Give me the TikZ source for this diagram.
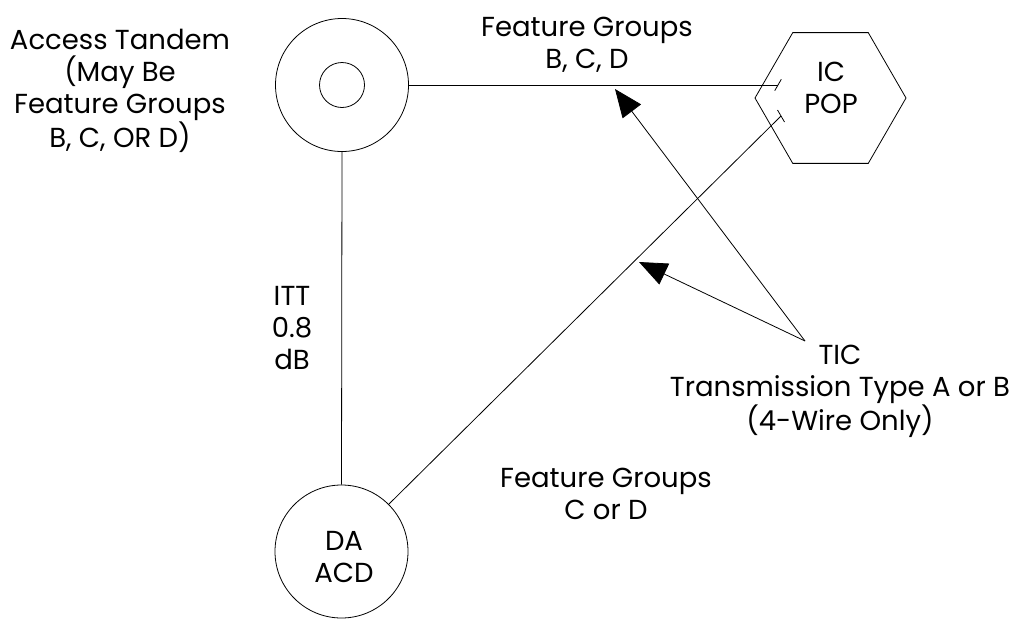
\documentclass[tikz,border=0pt]{standalone}
\usepackage{fontspec}
\setmainfont{Poppins}
\usetikzlibrary{arrows.meta,shapes.geometric,calc}
\begin{document}
\begin{tikzpicture}[x=1pt,y=-1pt,
  line width=0.8pt,
  site/.style={draw,circle,inner sep=0pt,minimum size=133pt},
  txt/.style={align=center,inner sep=0pt,font=\fontsize{27.5}{32}\selectfont},
  tickmark/.style={line width=0.8pt},
  pointer/.style={-{Triangle[length=28pt,width=23pt]},line width=0.8pt}]
\useasboundingbox (0,0) rectangle (1014,619);
% nodes
\node[site] (at) at (342,85) {};
\node[draw,circle,inner sep=0pt,minimum size=45pt] (atin) at (342,85) {};
\node[site] (da) at (341.5,551.5) {};
\node[txt] (dal) at (344,557) {DA\\ACD};
\node[draw,regular polygon,regular polygon sides=6,minimum size=151pt,inner sep=0pt] (pop) at (830.5,98) {};
\node[txt] (popl) at (831,87.5) {IC\\POP};
% labels
\node[txt] (atlab) at (120,91) {Access Tandem\\(May Be\\Feature Groups\\B, C, OR D)};
\node[txt] (fgtop) at (587,45) {Feature Groups\\B, C, D};
\node[txt] (itt) at (292,328) {ITT\\0.8\\dB};
\node[txt] (tic) at (840,391) {TIC\\Transmission Type A or B\\(4-Wire Only)};
\node[txt] (fgbot) at (606,494) {Feature Groups\\C or D};
% connector end points
\coordinate (p1) at (778,85);
\coordinate (p2) at (781,116);
\coordinate (apex) at (805,341);
\coordinate (tip1) at (615,89);
\coordinate (tip2) at (639,262);
% connectors
\draw (at.east) -- (p1);
\draw[tickmark] ($(p1)+(-3.3,5.7)$) -- ($(p1)+(3.3,-5.7)$);
\draw (at.south) -- (da.north);
\draw (da.45) -- (p2);
\draw[tickmark] ($(p2)+(-3.5,-6)$) -- ($(p2)+(3.5,6)$);
\draw[pointer] (apex) -- (tip1);
\draw[pointer] (apex) -- (tip2);
\end{tikzpicture}
\end{document}
